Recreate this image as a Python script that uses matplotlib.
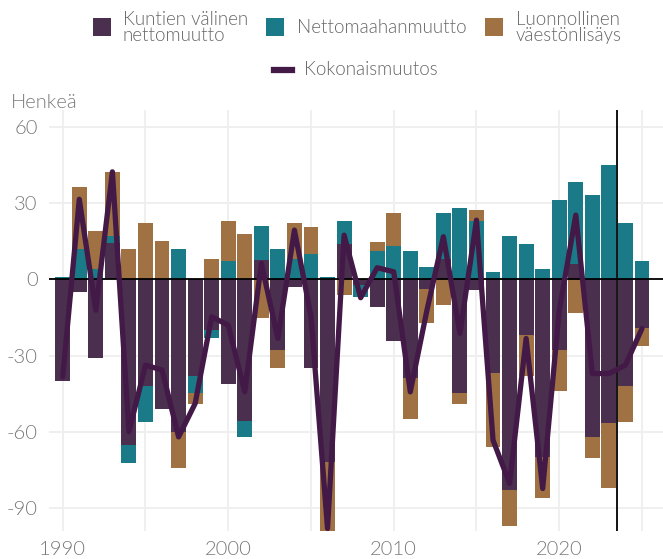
import matplotlib
matplotlib.use("Agg")
import matplotlib.pyplot as plt
import numpy as np
from matplotlib.patches import Rectangle
from matplotlib.lines import Line2D

years = list(range(1990, 2026))
kuntien = [-39.8, -4.8, -30.8, 14.2, -65.1, -41.9, -50.9, -59.9, -38.0, -19.9,
           -41.2, -55.7, 7.6, -27.8, -2.9, -34.7, -71.7, 13.8, -2.0, -10.9,
           -24.1, -38.7, -3.9, 7.9, -44.7, -4.1, -36.8, -82.8, -21.9, -69.7,
           -27.8, 6.0, -61.9, -56.6, -41.8, -19.0]
netto = [0.9, 11.9, 3.9, 2.9, -7.0, -14.0, 0.0, 11.9, -6.8, -3.0,
         7.2, -6.2, 13.4, 11.9, 8.0, 10.0, 0.9, 9.0, -5.0, 11.0,
         13.1, 11.1, 4.7, 18.1, 27.9, 22.9, 2.8, 16.9, 13.9, 4.1,
         31.2, 32.3, 33.2, 45.0, 22.1, 7.2]
luonnollinen = [0.0, 24.4, 15.1, 25.3, 11.9, 22.3, 15.1, -14.1, -4.1, 8.0,
                15.7, 17.8, -15.1, -6.9, 14.1, 10.8, -27.1, -6.2, 0.0, 3.9,
                13.0, -16.1, -13.2, -10.1, -4.2, 4.2, -29.0, -14.0, -16.1, -16.1,
                -16.0, -13.1, -8.2, -25.3, -14.2, -7.1]
kokonais = [-38.3, 31.5, -12.1, 42.3, -59.9, -33.7, -35.6, -61.9, -48.8, -14.7,
            -18.0, -44.2, 6.3, -23.2, 19.4, -14.5, -97.9, 17.4, -7.2, 4.6,
            3.0, -44.2, -12.3, 16.8, -21.2, 23.3, -63.2, -80.2, -23.2, -82.2,
            -12.3, 25.3, -37.0, -37.0, -33.7, -19.3]
series_names = ["Kuntien välinen\nnettomuutto", "Nettomaahanmuutto", "Luonnollinen\nväestönlisäys"]
line_name = "Kokonaismuutos"
y_ticks = [60, 30, 0, -30, -60, -90]
x_ticks = [1990, 2000, 2010, 2020]
x_minor = [1995, 2005, 2015, 2025]
forecast_split = 2023.5

colors = ["#4b2f4f", "#1b7a87", "#a07142"]
line_color = "#431a47"
text_gray = "#7a7a7a"
legend_gray = "#666666"
grid_col = "#efefef"

plt.rcParams['font.family'] = ['Lato', 'DejaVu Sans']
plt.rcParams['font.weight'] = 300

W, H = 663, 559
fig = plt.figure(figsize=(W / 100, H / 100), dpi=100)
ax = fig.add_axes([49 / W, (H - 531) / H, (663 - 49) / W, (531 - 110) / H])
ax.set_xlim(1989.17, 2026.27)
ax.set_ylim(-98.9, 66.6)

x = np.array(years)
pos_bottom = np.zeros(len(years))
neg_bottom = np.zeros(len(years))
for vals, col in zip([kuntien, netto, luonnollinen], colors):
    v = np.array(vals)
    bottoms = np.where(v >= 0, pos_bottom, neg_bottom)
    ax.bar(x, v, bottom=bottoms, width=0.9, color=col, linewidth=0, zorder=2)
    pos_bottom = pos_bottom + np.where(v >= 0, v, 0)
    neg_bottom = neg_bottom + np.where(v < 0, v, 0)

ax.axhline(0, color="black", linewidth=1.3, zorder=3)
ax.axvline(forecast_split, color="black", linewidth=1.3, zorder=3)
ax.plot(x, kokonais, color=line_color, linewidth=3.8, solid_joinstyle="round",
        solid_capstyle="round", zorder=4)

ax.set_yticks(y_ticks)
ax.set_yticklabels([str(t) for t in y_ticks])
ax.set_xticks(x_ticks)
ax.set_xticks(x_minor, minor=True)
ax.grid(True, which="both", color=grid_col, linewidth=1.4, zorder=0)
ax.tick_params(axis="both", which="both", length=0, labelsize=14.5, labelcolor=text_gray)
ax.tick_params(axis="y", pad=8)
ax.tick_params(axis="x", pad=7)
for s in ax.spines.values():
    s.set_visible(False)

fig.text(11 / W, 1 - 103 / H, "Henkeä", fontsize=14.5, color=text_gray, va="center", ha="left")

def fx(px):
    return px / W

def fy(py):
    return 1 - py / H

sq = 18
legend_items = [(93, 123, series_names[0]), (266, 297, series_names[1]), (485, 516, series_names[2])]
for (lx, tx, name), col in zip(legend_items, colors):
    fig.patches.append(Rectangle((fx(lx), fy(36)), sq / W, sq / H, transform=fig.transFigure,
                                 facecolor=col, edgecolor="none"))
    fig.text(fx(tx), fy(27.5), name, fontsize=13.5, color=legend_gray, va="center", ha="left",
             linespacing=0.98)
fig.lines.append(Line2D([fx(274), fx(292)], [fy(70), fy(70)], transform=fig.transFigure,
                        color=line_color, linewidth=4.5))
fig.text(fx(304), fy(70), line_name, fontsize=13.5, color=legend_gray, va="center", ha="left")

fig.savefig("out.png", dpi=100)
